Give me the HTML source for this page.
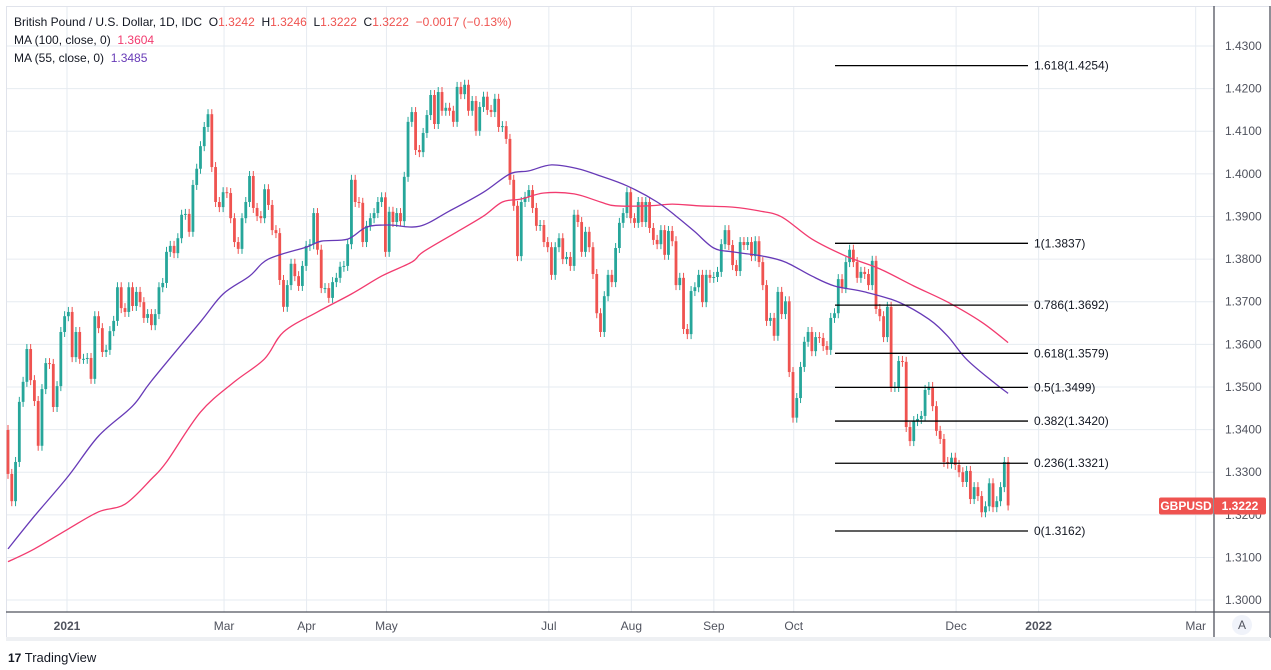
<!DOCTYPE html>
<html><head><meta charset="utf-8">
<style>
body{margin:0;background:#fff;font-family:"Liberation Sans",sans-serif;}
svg{display:block}
</style></head>
<body>
<svg id="chart" width="1271" height="670" xmlns="http://www.w3.org/2000/svg"></svg>
<script>
const firstOpen = 1.3399;
const closes = [
1.3296,1.3232,1.3324,1.3465,1.3512,1.3589,1.3516,1.3467,1.3362,1.3495,1.3556,1.3554,1.3453,1.3502,1.3629,1.3666,1.3676,1.3570,1.3629,1.3566,1.3566,1.3568,1.3519,1.3666,1.3638,1.3582,1.3587,1.3631,1.3655,1.3734,1.3685,1.3676,1.3734,1.3690,1.3723,1.3699,1.3662,1.3671,1.3645,1.3671,1.3734,1.3744,1.3817,1.3831,1.3814,1.3849,1.3904,1.3906,1.3864,1.3974,1.4012,1.4065,1.4110,1.4140,1.4016,1.3934,1.3922,1.3957,1.3955,1.3896,1.3840,1.3824,1.3896,1.3934,1.3995,1.3920,1.3901,
1.3896,1.3964,1.3927,1.3868,1.3861,1.3751,1.3688,1.3739,1.3789,1.3760,1.3737,1.3784,1.3831,1.3835,1.3908,1.3822,1.3732,1.3732,1.3709,1.3746,1.3756,1.3782,1.3784,1.3835,1.3986,1.3934,1.3932,1.3840,1.3878,1.3896,1.3908,1.3934,1.3945,1.3817,1.3911,1.3887,1.3908,1.3889,1.3993,1.4122,1.4145,1.4056,1.4051,1.4096,1.4138,1.4185,1.4117,1.4192,1.4148,1.4155,1.4148,1.4122,1.4204,1.4187,1.4209,1.4148,1.4171,1.4101,1.4157,1.4181,1.4150,1.4145,1.4176,1.4110,1.4112,1.4082,1.3986,1.3925,1.3807,1.3934,1.3946,
1.3962,1.3920,1.3878,1.3880,1.3840,1.3828,1.3763,1.3828,1.3849,1.3800,1.3805,1.3784,1.3904,1.3887,1.3817,1.3864,1.3828,1.3765,1.3673,1.3629,1.3713,1.3763,1.3746,1.3826,1.3885,1.3908,1.3957,1.3896,1.3885,1.3934,1.3887,1.3934,1.3873,1.3845,1.3835,1.3868,1.3810,1.3866,1.3842,1.3739,1.3756,1.3636,1.3624,1.3725,1.3734,1.3763,1.3699,1.3763,1.3756,1.3758,1.3770,1.3835,1.3868,1.3833,1.3786,1.3772,1.3840,1.3833,1.3840,1.3807,1.3842,1.3793,1.3739,1.3655,1.3662,1.3620,1.3723,1.3671,1.3701,1.3535,1.3428,1.3474,
1.3547,1.3606,1.3629,1.3584,1.3617,1.3615,1.3596,1.3587,1.3662,1.3673,1.3753,1.3732,1.3793,1.3822,1.3793,1.3756,1.3770,1.3765,1.3739,1.3796,1.3683,1.3666,1.3617,1.3688,1.3500,1.3500,1.3561,1.3559,1.3406,1.3373,1.3420,1.3425,1.3432,1.3493,1.3500,1.3455,1.3397,1.3378,1.3324,1.3320,1.3334,1.3317,1.3300,1.3277,1.3303,1.3237,1.3265,1.3244,1.3206,1.3220,1.3274,1.3218,1.3232,1.3265,1.3324,1.3222];
const ma55Idx = [0,7,16,24,33,38,51,57,64,69,79,83,90,95,101,109,117,126,133,138,144,151,157,164,172,177,182,187,192,200,206,213,219,227,236,244,249,254,261,265];
const ma55Val = [1.3120,1.3197,1.3291,1.3385,1.3455,1.3514,1.3653,1.3718,1.3760,1.3800,1.3828,1.3842,1.3847,1.3875,1.3880,1.3877,1.3913,1.3957,1.4000,1.4007,1.4021,1.4012,1.3995,1.3972,1.3934,1.3901,1.3864,1.3826,1.3817,1.3807,1.3793,1.3760,1.3737,1.3723,1.3699,1.3659,1.3619,1.3565,1.3512,1.3485];
const ma100Idx = [0,7,16,24,31,38,42,51,60,68,73,82,91,99,107,110,119,126,131,136,142,150,157,161,170,176,183,192,199,205,213,222,231,240,249,258,265];
const ma100Val = [1.3090,1.3120,1.3167,1.3207,1.3225,1.3284,1.3324,1.3441,1.3512,1.3566,1.3629,1.3676,1.3718,1.3760,1.3793,1.3817,1.3864,1.3901,1.3934,1.3941,1.3955,1.3953,1.3934,1.3925,1.3925,1.3929,1.3925,1.3922,1.3913,1.3899,1.3847,1.3807,1.3777,1.3737,1.3699,1.3652,1.3604];
const fibRatios = ["1.618","1","0.786","0.618","0.5","0.382","0.236","0"];
const fibLevels = [1.4254,1.3837,1.3692,1.3579,1.3499,1.3420,1.3321,1.3162];
const priceTicks = [1.30,1.31,1.32,1.33,1.34,1.35,1.36,1.37,1.38,1.39,1.40,1.41,1.42,1.43];
const monthLabels = ["2021","Mar","Apr","May","Jul","Aug","Sep","Oct","Dec","2022","Mar"];
const monthDay = [0,59,90,120,181,212,243,273,334,365,424];

const NS="http://www.w3.org/2000/svg";
const svg=document.getElementById('chart');
function el(tag,attrs,parent){const e=document.createElementNS(NS,tag);for(const k in attrs)e.setAttribute(k,attrs[k]);(parent||svg).appendChild(e);return e;}
const Y=p=>46+(1.43-p)*4262;
const X=i=>8+i*3.774;
const XD=d=>67+d*2.662;

const grid=el('g',{});


priceTicks.forEach(p=>{el('line',{x1:6,x2:1214,y1:Y(p),y2:Y(p),stroke:'#e6ebf1','stroke-width':1},grid);});
monthDay.forEach(d=>{el('line',{x1:XD(d),x2:XD(d),y1:6,y2:612,stroke:'#e6ebf1','stroke-width':1},grid);});

el('line',{x1:6,x2:1270,y1:6.5,y2:6.5,stroke:'#e0e3eb'});
el('line',{x1:6.5,x2:6.5,y1:6,y2:638,stroke:'#e0e3eb'});
el('line',{x1:1214,x2:1214,y1:6,y2:638,stroke:'#50535e','stroke-width':1.3});
el('line',{x1:1270,x2:1270,y1:6,y2:638,stroke:'#50535e','stroke-width':1.3});
el('line',{x1:6,x2:1270,y1:612,y2:612,stroke:'#50535e','stroke-width':1.3});
el('rect',{x:6,y:637,width:1264,height:4,fill:'#eef0f3'});

const cg=el('g',{});


let prev=firstOpen;
closes.forEach((c,i)=>{
  const o=prev; prev=c;
  const up=c>=o; const col=up?'#26a69a':'#ef5350';
  const x=X(i); const yo=Y(o), yc=Y(c);
  const top=Math.min(yo,yc), bot=Math.max(yo,yc);
  el('line',{x1:x,x2:x,y1:top-5,y2:bot+5,stroke:col,'stroke-width':1},cg);
  const r=el('rect',{x:x-1.4,y:top,width:2.8,height:Math.max(1,bot-top),fill:col},cg);
  
  
});

function maPath(idx,val,color,name){
  const pts=idx.map((k,j)=>[X(k),Y(val[j])]);
  let d='M'+pts[0][0].toFixed(1)+','+pts[0][1].toFixed(1);
  for(let i=0;i<pts.length-1;i++){
    const p0=pts[Math.max(0,i-1)],p1=pts[i],p2=pts[i+1],p3=pts[Math.min(pts.length-1,i+2)];
    const c1=[p1[0]+(p2[0]-p0[0])/6,p1[1]+(p2[1]-p0[1])/6];
    const c2=[p2[0]-(p3[0]-p1[0])/6,p2[1]-(p3[1]-p1[1])/6];
    d+=' C'+c1[0].toFixed(1)+','+c1[1].toFixed(1)+' '+c2[0].toFixed(1)+','+c2[1].toFixed(1)+' '+p2[0].toFixed(1)+','+p2[1].toFixed(1);
  }
  const p=el('path',{d:d,fill:'none',stroke:color,'stroke-width':1.3});
  
  
}
maPath(ma100Idx,ma100Val,'#f23b6f','ma100-line');
maPath(ma55Idx,ma55Val,'#673ab7','ma55-line');

const fg=el('g',{});


fibLevels.forEach((v,i)=>{
  el('line',{x1:835,x2:1028,y1:Y(v),y2:Y(v),stroke:'#000','stroke-width':1.3},fg);
  const t=el('text',{x:1034,y:Y(v)+4,'font-size':12,fill:'#131722'},fg);
  t.textContent=fibRatios[i]+'('+v.toFixed(4)+')';
  
  
});

priceTicks.forEach(p=>{
  const t=el('text',{x:1225,y:Y(p)+4,'font-size':12,fill:'#50535e'});
  t.textContent=p.toFixed(4);
  
  
});
monthLabels.forEach((m,i)=>{
  const t=el('text',{x:XD(monthDay[i]),y:630,'font-size':12,fill:'#50535e','text-anchor':'middle','font-weight':(m.length===4&&m[0]==='2')?'bold':'normal'});
  t.textContent=m;
  
  
});
const lastY=Y(closes[closes.length-1]);
const sym=el('rect',{x:1159,y:lastY-8,width:54,height:17,rx:2,fill:'#ef5350'});


const st=el('text',{x:1186,y:lastY+4.5,'font-size':12,'font-weight':'bold',fill:'#fff','text-anchor':'middle'});st.textContent='GBPUSD';
const pr=el('rect',{x:1214,y:lastY-8,width:52,height:17,rx:2,fill:'#ef5350'});


const pt=el('text',{x:1240,y:lastY+4.5,'font-size':12,'font-weight':'bold',fill:'#fff','text-anchor':'middle'});pt.textContent=closes[closes.length-1].toFixed(4);
const ab=el('circle',{cx:1242,cy:625,r:10,fill:'#f0f3fa'});


const at=el('text',{x:1242,y:629,'font-size':12,fill:'#50535e','text-anchor':'middle'});at.textContent='A';
</script>
<div style="position:absolute;left:14px;top:13px;font-size:12px;color:#131722;line-height:18px;font-family:'Liberation Sans',sans-serif">
<div>British Pound / U.S. Dollar, 1D, IDC&nbsp; O<span style="color:#ef5350">1.3242</span>&nbsp; H<span style="color:#ef5350">1.3246</span>&nbsp; L<span style="color:#ef5350">1.3222</span>&nbsp; C<span style="color:#ef5350">1.3222</span>&nbsp; <span style="color:#ef5350">−0.0017 (−0.13%)</span></div>
<div>MA (100, close, 0)&nbsp; <span style="color:#f23b6f">1.3604</span></div>
<div>MA (55, close, 0)&nbsp; <span style="color:#673ab7">1.3485</span></div>
</div>
<div style="position:absolute;left:8px;top:650px;font-size:13px;color:#131722;font-family:'Liberation Sans',sans-serif"><b style="font-size:12px">17</b> TradingView</div>
</body></html>
